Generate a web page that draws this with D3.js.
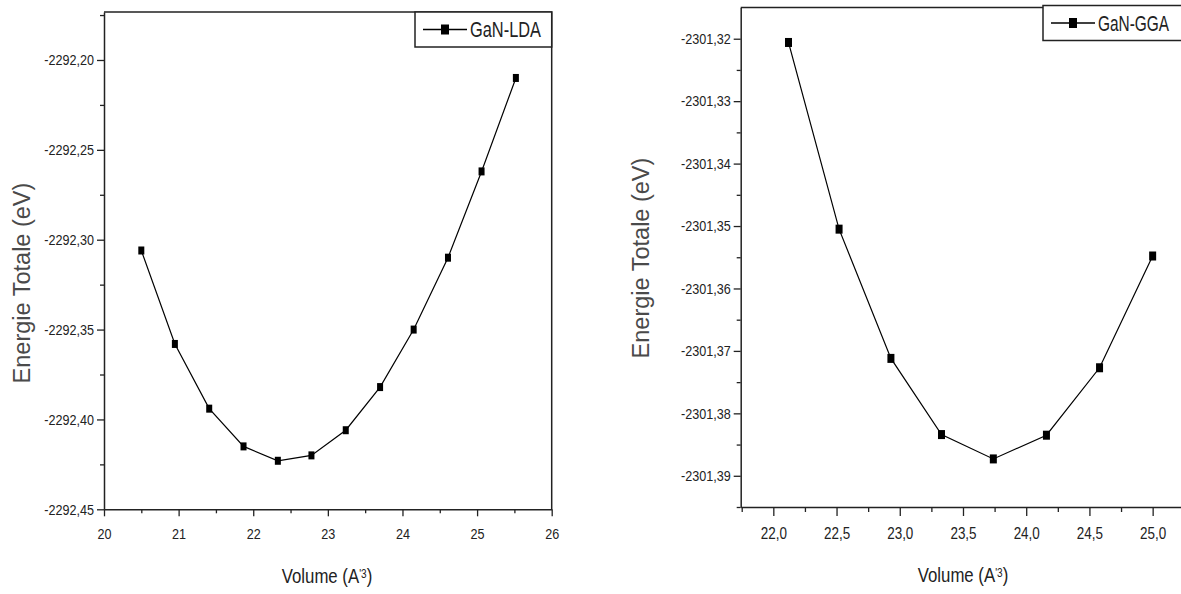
<!DOCTYPE html>
<html>
<head>
<meta charset="utf-8">
<title>GaN - Energie totale en fonction du volume</title>
<script src="https://d3js.org/d3.v7.min.js"></script>
<style>
  body { margin: 0; background: #fff; }
  svg text { font-family: "Liberation Sans", Arial, sans-serif; fill: #222; }
  .ytitle { fill: #4a4a4a !important; }
</style>
</head>
<body>
<div id="viz"></div>
<script>

// GaN-LDA (left panel)
var ldaVolume = [20.50, 20.95, 21.41, 21.87, 22.33, 22.78, 23.24, 23.70, 24.15, 24.61, 25.06, 25.52];
var ldaEnergy = [-2292.306, -2292.358, -2292.394, -2292.415, -2292.423, -2292.420,
                 -2292.406, -2292.382, -2292.350, -2292.310, -2292.262, -2292.210];
var ldaXTicks = [20, 21, 22, 23, 24, 25, 26];
var ldaXMinor = [20.5, 21.5, 22.5, 23.5, 24.5, 25.5];
var ldaYTicks = [-2292.45, -2292.40, -2292.35, -2292.30, -2292.25, -2292.20];
var ldaYMinor = [-2292.425, -2292.375, -2292.325, -2292.275, -2292.225, -2292.175];

// GaN-GGA (right panel)
var ggaVolume = [22.12, 22.52, 22.93, 23.33, 23.74, 24.16, 24.58, 25.00];
var ggaEnergy = [-2301.3206, -2301.3505, -2301.3712, -2301.3834,
                 -2301.3873, -2301.3835, -2301.3727, -2301.3548];
var ggaXTicks = [22.0, 22.5, 23.0, 23.5, 24.0, 24.5, 25.0];
var ggaXMinor = [21.75, 22.25, 22.75, 23.25, 23.75, 24.25, 24.75, 25.25];
var ggaYTicks = [-2301.39, -2301.38, -2301.37, -2301.36, -2301.35, -2301.34, -2301.33, -2301.32];
var ggaYMinor = [-2301.395, -2301.385, -2301.375, -2301.365, -2301.355, -2301.345, -2301.335, -2301.325];

// comma as decimal separator
var frLocale = d3.formatLocale({decimal: ",", thousands: "", grouping: [3], currency: ["", ""], minus: "-"});

var svg = d3.select("#viz")
  .append("svg")
    .attr("width", 1181)
    .attr("height", 594);

// no narrow font installed, so squeeze the glyphs horizontally
function squeeze(sel, f) {
  sel.each(function() {
    var w = this.getComputedTextLength();
    d3.select(this).attr("textLength", w * f).attr("lengthAdjust", "spacingAndGlyphs");
  });
}

function drawPanel(opt) {
  var x = d3.scaleLinear().domain(opt.xDomain).range(opt.xRange);
  var y = d3.scaleLinear().domain(opt.yDomain).range(opt.yRange);
  var g = svg.append("g");

  // frame (top and right)
  g.append("path")
    .attr("d", "M" + x.range()[0] + "," + y.range()[1] + "H" + x.range()[1] + "V" + y.range()[0])
    .attr("fill", "none")
    .attr("stroke", "#222")
    .attr("stroke-width", 1.5);

  // minor ticks
  g.append("g")
    .attr("transform", "translate(0," + y.range()[0] + ")")
    .call(d3.axisBottom(x).tickValues(opt.xMinor).tickSize(opt.xMinorLen).tickFormat(""))
    .call(function(a) { a.select(".domain").remove(); });
  g.append("g")
    .attr("transform", "translate(" + x.range()[0] + ",0)")
    .call(d3.axisLeft(y).tickValues(opt.yMinor).tickSize(4).tickFormat(""))
    .call(function(a) { a.select(".domain").remove(); });

  // major axes
  var xAxis = g.append("g")
    .attr("transform", "translate(0," + y.range()[0] + ")")
    .call(d3.axisBottom(x).tickValues(opt.xTicks).tickSize(opt.xTickLen).tickSizeOuter(0)
      .tickPadding(12).tickFormat(frLocale.format(opt.xFormat)));
  var yAxis = g.append("g")
    .attr("transform", "translate(" + x.range()[0] + ",0)")
    .call(d3.axisLeft(y).tickValues(opt.yTicks).tickSize(7).tickSizeOuter(0)
      .tickPadding(3).tickFormat(frLocale.format(".2f")));

  g.selectAll(".tick line").attr("stroke", "#222").attr("stroke-width", 1.3);
  g.selectAll(".domain").attr("stroke", "#222").attr("stroke-width", 1.5);
  xAxis.selectAll("text").attr("font-size", opt.xFont).attr("font-family", null).attr("fill", "#222")
    .call(squeeze, 0.84);
  yAxis.selectAll("text").attr("font-size", 15).attr("font-family", null).attr("fill", "#222")
    .call(squeeze, 0.84);

  // curve
  var pts = opt.vol.map(function(v, i) { return [v, opt.en[i]]; });
  g.append("path")
    .datum(pts)
    .attr("fill", "none")
    .attr("stroke", "#000")
    .attr("stroke-width", 1.2)
    .attr("d", d3.line()
      .x(function(d) { return x(d[0]); })
      .y(function(d) { return y(d[1]); }));

  g.selectAll(".pt")
    .data(pts)
    .enter()
    .append("rect")
      .attr("x", function(d) { return x(d[0]) - opt.mw / 2; })
      .attr("y", function(d) { return y(d[1]) - opt.mh / 2; })
      .attr("width", opt.mw)
      .attr("height", opt.mh)
      .attr("fill", "#000");

  // legend
  var lg = opt.legend;
  g.append("rect")
    .attr("x", lg.x).attr("y", lg.y)
    .attr("width", lg.w).attr("height", lg.h)
    .attr("fill", "#fff").attr("stroke", "#222").attr("stroke-width", 1.5);
  g.append("line")
    .attr("x1", lg.x + 8).attr("x2", lg.x + 52)
    .attr("y1", lg.y + lg.h / 2).attr("y2", lg.y + lg.h / 2)
    .attr("stroke", "#000").attr("stroke-width", 1.3);
  g.append("rect")
    .attr("x", lg.x + 30 - 4).attr("y", lg.y + lg.h / 2 - 5)
    .attr("width", 8).attr("height", 10)
    .attr("fill", "#000");
  g.append("text")
    .attr("x", lg.x + 55).attr("y", lg.y + lg.h / 2)
    .attr("dy", "0.36em")
    .attr("font-size", 22)
    .attr("textLength", 71)
    .attr("lengthAdjust", "spacingAndGlyphs")
    .text(opt.name);

  // axis titles
  var xt = g.append("g")
    .attr("transform", "translate(" + opt.xTitle[0] + "," + opt.xTitle[1] + ") scale(0.84,1)")
    .append("text")
      .attr("text-anchor", "middle")
      .attr("font-size", 20)
      .attr("fill", "#333");
  xt.append("tspan").text("Volume (A");
  xt.append("tspan").attr("baseline-shift", "45%").attr("font-size", 12).text("'3");
  xt.append("tspan").text(")");

  g.append("text")
    .attr("class", "ytitle")
    .attr("transform", "translate(" + opt.yTitle[0] + "," + opt.yTitle[1] + ") rotate(-90)")
    .attr("text-anchor", "middle")
    .attr("dy", "0.35em")
    .attr("font-size", 23.5)
    .text("Energie Totale (eV)");
}

drawPanel({
  name: "GaN-LDA",
  vol: ldaVolume, en: ldaEnergy,
  xDomain: [20, 26], xRange: [104, 551.7],
  yDomain: [-2292.45, -2292.1733], yRange: [509.3, 12],
  xTicks: ldaXTicks, xMinor: ldaXMinor, xFormat: "d",
  yTicks: ldaYTicks, yMinor: ldaYMinor,
  xTickLen: 7, xMinorLen: 4, xFont: 15,
  mw: 6, mh: 8,
  legend: {x: 415, y: 12, w: 136.7, h: 35},
  xTitle: [327, 583], yTitle: [22, 283]
});

drawPanel({
  name: "GaN-GGA",
  vol: ggaVolume, en: ggaEnergy,
  xDomain: [21.742, 25.24], xRange: [740.7, 1183],
  yDomain: [-2301.395, -2301.315], yRange: [507, 7.5],
  xTicks: ggaXTicks, xMinor: ggaXMinor, xFormat: ".1f",
  yTicks: ggaYTicks, yMinor: ggaYMinor,
  xTickLen: 9, xMinorLen: 5, xFont: 16,
  mw: 7, mh: 9,
  legend: {x: 1043, y: 5.5, w: 145, h: 35},
  xTitle: [963, 582], yTitle: [641, 258]
});

</script>
</body>
</html>
